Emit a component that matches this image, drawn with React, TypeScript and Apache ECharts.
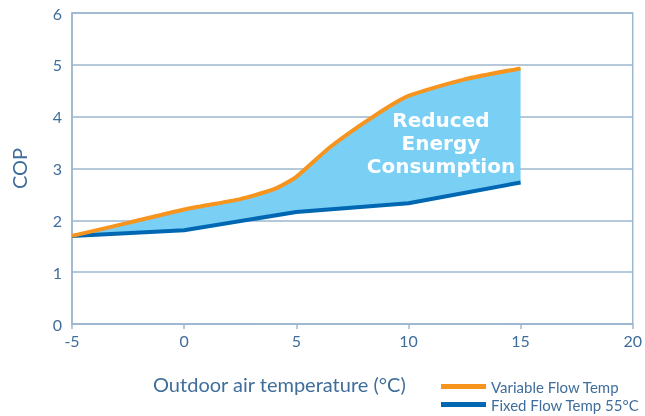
import React, { useEffect, useRef } from "react";
import * as echarts from "echarts";

const xTicks = [-5, 0, 5, 10, 15, 20];
const yTicks = [0, 1, 2, 3, 4, 5, 6];
const variableX = [-5, -2.5, 0, 2.5, 4, 5, 6.5, 8.5, 10, 12.5, 15];
const variableCOP = [1.7, 1.95, 2.21, 2.41, 2.6, 2.84, 3.41, 4.02, 4.4, 4.72, 4.93];
const fixedX = [-5, 0, 5, 10, 15];
const fixedCOP = [1.7, 1.81, 2.16, 2.33, 2.73];
const seriesNames = ["Variable Flow Temp", "Fixed Flow Temp 55°C"];
const xTitle = "Outdoor air temperature (°C)";
const yTitle = "COP";
const areaLabel = "Reduced\nEnergy\nConsumption";

const FONT = "Lato";
const AXIS_BLUE = "#3f6e9c";
const GRID = "#9db7cf";
const ORANGE = "#f7941d";
const BLUE = "#0068b3";
const FILL = "#79cff4";

export default function App() {
  const ref = useRef<HTMLDivElement>(null);
  useEffect(() => {
    if (!ref.current) return;
    const chart = echarts.init(ref.current, undefined, { renderer: "svg" });
    const variable = variableX.map((x, i) => [x, variableCOP[i]]);
    const fixed = fixedX.map((x, i) => [x, fixedCOP[i]]);
    const polyPts = variable.concat(fixed.slice().reverse());
    const legendBase = {
      orient: "horizontal",
      left: 436,
      itemWidth: 45,
      itemHeight: 5,
      icon: "rect",
      itemGap: 5,
      textStyle: { color: AXIS_BLUE, fontSize: 15, fontFamily: FONT },
    };
    chart.setOption({
      animation: false,
      textStyle: { fontFamily: FONT },
      grid: {
        left: 72,
        right: 8,
        top: 13,
        bottom: 92,
        show: true,
        borderColor: GRID,
        borderWidth: 1.5,
      },
      xAxis: {
        type: "value",
        min: xTicks[0],
        max: xTicks[xTicks.length - 1],
        interval: 5,
        axisLine: { lineStyle: { color: GRID, width: 1.5 } },
        axisTick: { show: true, length: 5, lineStyle: { color: GRID, width: 1.5 } },
        axisLabel: { color: AXIS_BLUE, fontSize: 16, margin: 8, fontFamily: FONT },
        splitLine: { show: false },
      },
      yAxis: {
        type: "value",
        min: yTicks[0],
        max: yTicks[yTicks.length - 1],
        interval: 1,
        name: yTitle,
        nameLocation: "middle",
        nameGap: 43,
        nameTextStyle: { color: AXIS_BLUE, fontSize: 20, fontFamily: FONT },
        axisLine: { show: true, onZero: false, lineStyle: { color: GRID, width: 1.5 } },
        axisTick: { show: false },
        axisLabel: { color: AXIS_BLUE, fontSize: 16, margin: 10, fontFamily: FONT },
        splitLine: { lineStyle: { color: GRID, width: 1.5 } },
      },
      legend: [
        { ...legendBase, top: 374, data: [seriesNames[0]] },
        { ...legendBase, top: 392, data: [seriesNames[1]] },
      ],
      graphic: [
        {
          type: "text",
          left: 153,
          top: 374,
          style: { text: xTitle, fill: AXIS_BLUE, fontSize: 20, fontFamily: FONT },
        },
      ],
      series: [
        {
          type: "custom",
          silent: true,
          z: 1,
          renderItem: (params: any, api: any) => {
            return {
              type: "polygon",
              shape: { points: polyPts.map((p) => api.coord(p)) },
              style: { fill: FILL },
            };
          },
          data: [0],
        },
        {
          type: "custom",
          silent: true,
          z: 5,
          renderItem: (params: any, api: any) => {
            const c = api.coord([11.45, 3.49]);
            return {
              type: "text",
              x: c[0],
              y: c[1],
              style: {
                text: areaLabel,
                fill: "#ffffff",
                fontSize: 20,
                fontWeight: "bold",
                fontFamily: "DejaVu Sans",
                align: "center",
                verticalAlign: "middle",
                lineHeight: 23,
              },
            };
          },
          data: [0],
        },
        {
          name: seriesNames[1],
          type: "line",
          data: fixed,
          symbol: "none",
          z: 3,
          lineStyle: { color: BLUE, width: 4 },
          itemStyle: { color: BLUE },
        },
        {
          name: seriesNames[0],
          type: "line",
          data: variable,
          symbol: "none",
          smooth: 0.2,
          z: 4,
          lineStyle: { color: ORANGE, width: 4 },
          itemStyle: { color: ORANGE },
        },
      ],
    });
    return () => chart.dispose();
  }, []);
  return (
    <div
      ref={ref}
      style={{ position: "fixed", left: 0, top: 0, width: 645, height: 416 }}
    />
  );
}
